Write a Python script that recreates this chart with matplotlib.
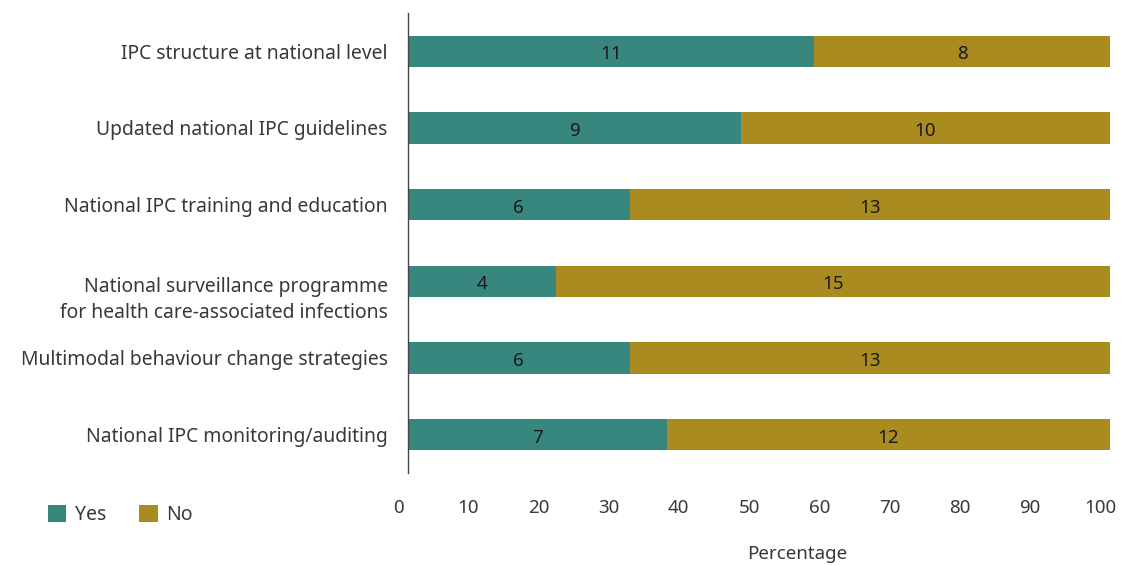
import matplotlib
matplotlib.use("Agg")
import matplotlib.pyplot as plt
from matplotlib.patches import Patch
from matplotlib.transforms import ScaledTranslation, blended_transform_factory
import numpy as np

categories = [
    "IPC structure at national level",
    "Updated national IPC guidelines",
    "National IPC training and education",
    "National surveillance programme\nfor health care-associated infections",
    "Multimodal behaviour change strategies",
    "National IPC monitoring/auditing",
]
yes_counts = [11, 9, 6, 4, 6, 7]
no_counts = [8, 10, 13, 15, 13, 12]
x_ticks = [0, 10, 20, 30, 40, 50, 60, 70, 80, 90, 100]

YES_COLOR = "#37877f"
NO_COLOR = "#a98b1f"
TEXT_COLOR = "#383838"

plt.rcParams["font.family"] = ["Noto Sans", "DejaVu Sans"]

yes = np.array(yes_counts, dtype=float)
no = np.array(no_counts, dtype=float)
total = yes + no
yes_pct = yes / total * 100
no_pct = no / total * 100
y = np.arange(len(categories))

fig = plt.figure(figsize=(11.21, 5.65), dpi=100)
ax = fig.add_axes([408 / 1121, 1 - 473 / 565, 702 / 1121, 460 / 565])

bar_h = 0.405
ax.barh(y, yes_pct, height=bar_h, color=YES_COLOR)
ax.barh(y, no_pct, left=yes_pct, height=bar_h, color=NO_COLOR)

for i in range(len(categories)):
    ax.text(yes_pct[i] / 2, y[i] + 0.04, f"{yes_counts[i]}", ha="center", va="center",
            fontsize=13.5, color="#1a1a1a")
    ax.text(yes_pct[i] + no_pct[i] / 2, y[i] + 0.04, f"{no_counts[i]}", ha="center",
            va="center", fontsize=13.5, color="#1a1a1a")

ax.set_xlim(0, 100)
ax.set_ylim(len(categories) - 0.5, -0.5)
ax.set_yticks(y)
ax.set_yticklabels(categories, fontsize=13.9, color=TEXT_COLOR, ha="right",
                   linespacing=1.4)
ax.tick_params(axis="y", length=0, pad=14.5)
ax.set_xticks([])

# the two-line label starts level with its bar, so push it down a little
for lab in ax.get_yticklabels():
    if "\n" in lab.get_text():
        lab.set_transform(lab.get_transform() +
                          ScaledTranslation(0, -0.135, fig.dpi_scale_trans))

for s in ["top", "right", "bottom"]:
    ax.spines[s].set_visible(False)
ax.spines["left"].set_color("#444444")
ax.spines["left"].set_linewidth(1.0)

# tick labels sit slightly left of their true positions in the original
trans = blended_transform_factory(ax.transData, fig.transFigure) + \
    ScaledTranslation(-0.10, 0, fig.dpi_scale_trans)
for t in x_ticks:
    ax.text(t, 1 - 508 / 565, f"{t}", transform=trans, ha="center", va="center",
            fontsize=13.5, color=TEXT_COLOR, clip_on=False)

fig.text(797 / 1121, 1 - 554 / 565, "Percentage", ha="center", va="center",
         fontsize=13.5, color=TEXT_COLOR)

handles = [Patch(facecolor=YES_COLOR, label="Yes"), Patch(facecolor=NO_COLOR, label="No")]
fig.legend(handles=handles, loc="center left", bbox_to_anchor=(30 / 1121, 1 - 515 / 565),
           ncol=2, frameon=False, fontsize=14, handlelength=0.95, handleheight=0.95,
           handletextpad=0.45, columnspacing=1.7, labelcolor=TEXT_COLOR)

fig.savefig("out.png", dpi=100)
